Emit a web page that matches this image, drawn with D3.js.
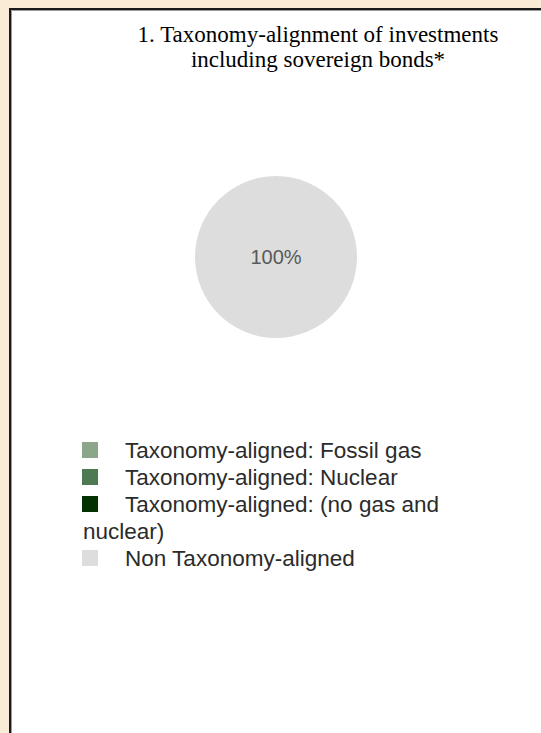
<!DOCTYPE html>
<html>
<head>
<meta charset="utf-8">
<script src="https://cdn.jsdelivr.net/npm/d3@7"></script>
<style>
  html, body { margin: 0; padding: 0; background: #faebd7; }
  #chart { width: 541px; height: 733px; }
</style>
</head>
<body>
<div id="chart"></div>
<script>
// data
const titleLines = ["1. Taxonomy-alignment of investments", "including sovereign bonds*"];
const categories = [
    "Taxonomy-aligned: Fossil gas",
    "Taxonomy-aligned: Nuclear",
    "Taxonomy-aligned: (no gas and nuclear)",
    "Non Taxonomy-aligned"
];
const values = [0, 0, 0, 100];
const colors = ["#8ca68a", "#4d7a52", "#003300", "#dddddd"];

// constants
const width = 541;
const height = 733;
const cx = 276, cy = 257, radius = 81;

const svg = d3.select("#chart")
    .append("svg")
    .attr("width", width)
    .attr("height", height);

// panel box (only left and top edges visible)
svg.append("rect")
    .attr("x", 10)
    .attr("y", 9)
    .attr("width", width)
    .attr("height", height)
    .attr("fill", "#fff")
    .attr("stroke", "#1a1a1a")
    .attr("stroke-width", 2);
svg.append("path")
    .attr("d", `M11.5,${height} V10.5 H${width}`)
    .attr("fill", "none")
    .attr("stroke", "#9a9a9a")
    .attr("stroke-width", 1);

// title
svg.append("text")
    .attr("text-anchor", "middle")
    .attr("font-family", "'Liberation Serif', 'Times New Roman', serif")
    .attr("font-size", 23)
    .attr("fill", "#000")
    .selectAll("tspan")
    .data(titleLines)
    .enter().append("tspan")
    .attr("x", 318)
    .attr("y", (d, i) => 42 + i * 25)
    .text(d => d);

// pie
const color = d3.scaleOrdinal().domain(categories).range(colors);
const pie = d3.pie().sort(null).value(d => d.value);
const arc = d3.arc().innerRadius(0).outerRadius(radius);
const slices = pie(categories.map((c, i) => ({ name: c, value: values[i] })))
    .filter(d => d.value > 0);

const g = svg.append("g").attr("transform", `translate(${cx},${cy})`);
g.selectAll("path")
    .data(slices)
    .enter().append("path")
    .attr("d", arc)
    .attr("fill", d => color(d.data.name));

const total = d3.sum(values);
g.selectAll("text.lbl")
    .data(slices)
    .enter().append("text")
    .attr("class", "lbl")
    .attr("transform", d => (d.endAngle - d.startAngle >= 2 * Math.PI - 1e-6)
        ? "translate(0,0)"
        : `translate(${d3.arc().innerRadius(radius * 0.6).outerRadius(radius * 0.6).centroid(d)})`)
    .attr("text-anchor", "middle")
    .attr("dy", "0.35em")
    .attr("font-family", "'Liberation Sans', Arial, sans-serif")
    .attr("font-size", 20)
    .attr("fill", "#595959")
    .text(d => d3.format(".0%")(d.value / total));

// legend
const legendX = 82, textX = 125, wrapX = 83, rowStart = 450, rowH = 27, maxRight = 470;
const legend = svg.append("g")
    .attr("font-family", "'Liberation Sans', Arial, sans-serif")
    .attr("font-size", 22.5)
    .attr("fill", "#2b2b2b");

let y = rowStart;
categories.forEach((c, i) => {
    legend.append("rect")
        .attr("x", legendX)
        .attr("y", y - 8)
        .attr("width", 16)
        .attr("height", 16)
        .attr("fill", colors[i]);

    // simple word wrap, continuation lines start under the square
    const words = c.split(" ");
    let line = [];
    let x = textX;
    let t = legend.append("text").attr("x", x).attr("y", y).attr("dy", "0.35em");
    words.forEach(w => {
        line.push(w);
        t.text(line.join(" "));
        if (x + t.node().getComputedTextLength() > maxRight && line.length > 1) {
            line.pop();
            t.text(line.join(" "));
            line = [w];
            y += rowH;
            x = wrapX;
            t = legend.append("text").attr("x", x).attr("y", y).attr("dy", "0.35em").text(w);
        }
    });
    y += rowH;
});
</script>
</body>
</html>
